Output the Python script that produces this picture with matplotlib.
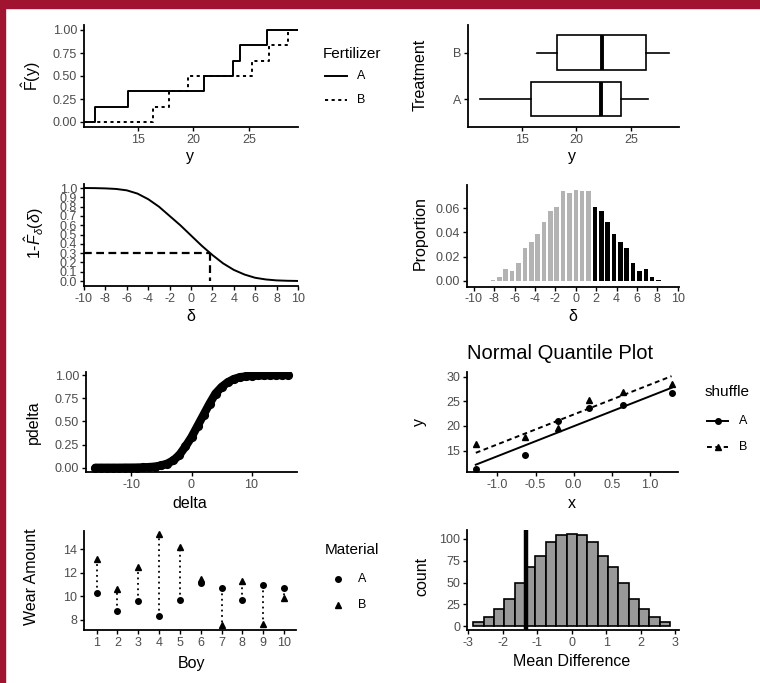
import numpy as np
import matplotlib.pyplot as plt
from matplotlib.lines import Line2D
from matplotlib.patches import Rectangle

plt.rcParams['font.family'] = ['Liberation Sans', 'DejaVu Sans']
plt.rcParams['mathtext.fontset'] = 'custom'
plt.rcParams['mathtext.rm'] = 'Liberation Sans'
plt.rcParams['mathtext.it'] = 'Liberation Sans:italic'
plt.rcParams['mathtext.bf'] = 'Liberation Sans:bold'
plt.rcParams['axes.unicode_minus'] = False

# ---- data ----
# fertilizer yields (ecdf, boxplot and normal quantile plot)
yield_A = [11.2, 14.1, 21.0, 23.6, 24.2, 26.6]
yield_B = [16.4, 17.8, 19.5, 25.3, 26.8, 28.5]
norm_q = [-1.2816, -0.6433, -0.2019, 0.2019, 0.6433, 1.2816]

# 1 - F(delta) curve
surv_delta = [-10, -9, -8, -7, -6, -5, -4, -3, -2, -1, 0, 1, 2, 3, 4, 5, 6, 7, 8, 9, 10]
surv_prob = [1.000, 0.999, 0.996, 0.990, 0.975, 0.94, 0.88, 0.80, 0.70, 0.60, 0.49,
             0.38, 0.28, 0.19, 0.12, 0.07, 0.035, 0.017, 0.007, 0.003, 0.001]
delta_obs = 1.74

# permutation distribution of delta
perm_delta = [-8.125, -7.5, -6.875, -6.25, -5.625, -5.0, -4.375, -3.75, -3.125, -2.5,
              -1.875, -1.25, -0.625, 0.0, 0.625, 1.25, 1.875, 2.5, 3.125, 3.75,
              4.375, 5.0, 5.625, 6.25, 6.875, 7.5, 8.125]
perm_prop = [0.001, 0.003, 0.010, 0.008, 0.015, 0.027, 0.032, 0.039, 0.049, 0.058,
             0.061, 0.074, 0.073, 0.075, 0.074, 0.074, 0.061, 0.058, 0.049, 0.039,
             0.032, 0.027, 0.015, 0.008, 0.010, 0.003, 0.001]

# pdelta vs delta
pdelta_x = list(range(-16, 17))
pdelta_y = [0.0, 0.0, 0.0, 0.0, 0.0, 0.001, 0.001, 0.002, 0.004, 0.007, 0.013, 0.025,
            0.045, 0.08, 0.14, 0.23, 0.33, 0.45, 0.57, 0.69, 0.80, 0.87, 0.92, 0.955,
            0.975, 0.985, 0.992, 0.995, 0.997, 0.998, 0.999, 1.0, 1.0]

# boys shoes
boys = [1, 2, 3, 4, 5, 6, 7, 8, 9, 10]
wear_A = [10.3, 8.8, 9.6, 8.3, 9.7, 11.1, 10.7, 9.7, 11.0, 10.7]
wear_B = [13.2, 10.6, 12.5, 15.3, 14.2, 11.5, 7.6, 11.3, 7.7, 9.9]

# mean difference histogram
md_centers = [-2.7, -2.4, -2.1, -1.8, -1.5, -1.2, -0.9, -0.6, -0.3, 0.0,
              0.3, 0.6, 0.9, 1.2, 1.5, 1.8, 2.1, 2.4, 2.7]
md_counts = [5, 10, 20, 31, 50, 68, 80, 96, 104, 106, 105, 96, 80, 68, 50, 31, 20, 10, 5]
md_obs = -1.33

W, H = 760, 683
TICK_C = '#4d4d4d'


def rect(l, t, r, b):
    return [l / W, 1 - b / H, (r - l) / W, (b - t) / H]


def style(ax):
    for s in ['top', 'right']:
        ax.spines[s].set_visible(False)
    for s in ['left', 'bottom']:
        ax.spines[s].set_linewidth(1.3)
        ax.spines[s].set_color('black')
    ax.tick_params(length=3, width=1.0, labelsize=9, labelcolor=TICK_C, pad=2)


def ftext(x, y, s, **kw):
    fig.text(x / W, 1 - y / H, s, **kw)


def fline(x0, x1, y, **kw):
    fig.add_artist(Line2D([x0 / W, x1 / W], [1 - y / H, 1 - y / H],
                          transform=fig.transFigure, **kw))


fig = plt.figure(figsize=(7.6, 6.83), dpi=100)

# red page border
fig.patches.append(Rectangle((0, 1 - 7.5 / H), 1, 7.5 / H, transform=fig.transFigure,
                             color='#a01432', zorder=-1))
fig.patches.append(Rectangle((0, 0), 5 / W, 1, transform=fig.transFigure,
                             color='#a01432', zorder=-1))

LAB = 11.5

# ---- panel 1: ecdf ----
ax1 = fig.add_axes(rect(84, 25.4, 297.6, 126.6))
style(ax1)
lo, hi = 10.2, 29.35
n = len(yield_A)
steps = list(np.arange(0, n + 1) / n) + [1.0]
ax1.step([lo] + sorted(yield_A) + [hi], steps, where='post', color='black', lw=1.4)
ax1.step([lo] + sorted(yield_B) + [hi], steps, where='post', color='black', lw=1.4,
         linestyle=(0, (1.6, 1.8)))
ax1.set_xlim(lo, hi)
ax1.set_ylim(-0.05, 1.05)
ax1.set_xticks([15, 20, 25])
ax1.set_yticks([0, 0.25, 0.5, 0.75, 1.0])
ax1.set_yticklabels(['0.00', '0.25', '0.50', '0.75', '1.00'])
ftext(190, 157, 'y', fontsize=LAB, ha='center', va='center')
ftext(31, 76, r'$\hat{\mathrm{F}}\mathrm{(y)}$', fontsize=LAB, ha='center', va='center',
      rotation=90)
ftext(323, 54, 'Fertilizer', fontsize=11, ha='left', va='center')
fline(325, 347, 76, color='black', lw=1.4)
fline(325, 347, 100, color='black', lw=1.4, linestyle=(0, (1.6, 1.8)))
ftext(357, 76, 'A', fontsize=9, ha='left', va='center')
ftext(357, 100, 'B', fontsize=9, ha='left', va='center')

# ---- panel 2: boxplot ----
ax2 = fig.add_axes(rect(468, 24.6, 679, 126.9))
style(ax2)
ax2.boxplot([yield_A, yield_B], positions=[1, 2], orientation='horizontal', widths=0.75,
            showfliers=False, showcaps=False, patch_artist=True,
            boxprops=dict(facecolor='white', edgecolor='black', linewidth=1.2),
            whiskerprops=dict(color='black', linewidth=1.2),
            medianprops=dict(color='black', linewidth=2.8))
ax2.set_xlim(10.1, 29.4)
ax2.set_ylim(0.4, 2.6)
ax2.set_xticks([15, 20, 25])
ax2.set_xticklabels(['15', '20', '25'])
ax2.set_yticks([1, 2])
ax2.set_yticklabels(['A', 'B'])
ftext(571.7, 157, 'y', fontsize=LAB, ha='center', va='center')
ftext(420, 75, 'Treatment', fontsize=LAB, ha='center', va='center', rotation=90)

# ---- panel 3: 1 - F(delta) ----
ax3 = fig.add_axes(rect(84, 184.3, 298, 285.7))
style(ax3)
ax3.plot(surv_delta, surv_prob, color='black', lw=1.4)
ax3.plot([-10, delta_obs], [0.3, 0.3], color='black', lw=1.6, linestyle=(0, (3.5, 2)))
ax3.plot([delta_obs, delta_obs], [0.3, 0.0], color='black', lw=1.6, linestyle=(0, (3.5, 2)))
ax3.set_xlim(-10, 10)
ax3.set_ylim(-0.05, 1.04)
ax3.set_xticks(range(-10, 11, 2))
ax3.set_yticks([i / 10 for i in range(11)])
ax3.set_yticklabels(['%.1f' % (i / 10) for i in range(11)])
ftext(190.7, 316.7, 'δ', fontsize=LAB, ha='center', va='center')
ftext(34, 233, r'1-$\hat{F}_{\delta}(\delta)$', fontsize=LAB, ha='center', va='center',
      rotation=90)

# ---- panel 4: permutation proportions ----
ax4 = fig.add_axes(rect(467, 185, 679, 286.5))
style(ax4)
cols = ['black' if d >= delta_obs else '#b3b3b3' for d in perm_delta]
ax4.bar(perm_delta, perm_prop, width=0.45, color=cols)
ax4.set_xlim(-10.68, 10.13)
ax4.set_ylim(-0.0047, 0.0793)
ax4.set_xticks(range(-10, 11, 2))
ax4.set_yticks([0, 0.02, 0.04, 0.06])
ax4.set_yticklabels(['0.00', '0.02', '0.04', '0.06'])
ftext(572.7, 316.7, 'δ', fontsize=LAB, ha='center', va='center')
ftext(420, 233, 'Proportion', fontsize=LAB, ha='center', va='center', rotation=90)

# ---- panel 5: pdelta ----
ax5 = fig.add_axes(rect(86, 371.5, 297, 472))
style(ax5)
ax5.plot(pdelta_x, pdelta_y, color='black', lw=6.0, solid_capstyle='round',
         solid_joinstyle='round', marker='o', ms=5.6)
ax5.set_xlim(-17.58, 17.58)
ax5.set_ylim(-0.046, 1.038)
ax5.set_xticks([-10, 0, 10])
ax5.set_yticks([0, 0.25, 0.5, 0.75, 1.0])
ax5.set_yticklabels(['0.00', '0.25', '0.50', '0.75', '1.00'])
ftext(190, 503.3, 'delta', fontsize=LAB, ha='center', va='center')
ftext(33, 421.7, 'pdelta', fontsize=LAB, ha='center', va='center', rotation=90)

# ---- panel 6: normal quantile plot ----
ax6 = fig.add_axes(rect(467, 371.7, 678, 471.7))
style(ax6)
zq = 0.6745
for vals, mk, ls, ms in [(yield_A, 'o', '-', 4.0), (yield_B, '^', (0, (2.5, 1.8)), 4.6)]:
    q1, q3 = np.percentile(vals, [25, 75])
    slope = (q3 - q1) / (2 * zq)
    inter = q1 + zq * slope
    xq = np.array([norm_q[0], norm_q[-1]])
    ax6.plot(xq, inter + slope * xq, color='black', lw=1.4, linestyle=ls)
    ax6.plot(norm_q, sorted(vals), linestyle='none', marker=mk, ms=ms, color='black')
ax6.set_xlim(-1.397, 1.366)
ax6.set_ylim(10.7, 31.02)
ax6.set_xticks([-1.0, -0.5, 0.0, 0.5, 1.0])
ax6.set_xticklabels(['-1.0', '-0.5', '0.0', '0.5', '1.0'])
ax6.set_yticks([15, 20, 25, 30])
ax6.set_title('Normal Quantile Plot', loc='left', fontsize=14.5, pad=9)
ftext(571.7, 503.3, 'x', fontsize=LAB, ha='center', va='center')
ftext(419.3, 421.7, 'y', fontsize=LAB, ha='center', va='center', rotation=90)
ftext(705, 391.7, 'shuffle', fontsize=11, ha='left', va='center')
fline(706.7, 728.3, 421, color='black', lw=1.4)
fline(706.7, 728.3, 446.7, color='black', lw=1.4, linestyle=(0, (2.5, 1.8)))
fig.add_artist(Line2D([717.5 / W], [1 - 421 / H], transform=fig.transFigure,
                      marker='o', ms=4.0, color='black'))
fig.add_artist(Line2D([717.5 / W], [1 - 446.7 / H], transform=fig.transFigure,
                      marker='^', ms=4.6, color='black'))
ftext(739.3, 421, 'A', fontsize=9, ha='left', va='center')
ftext(739.3, 446.7, 'B', fontsize=9, ha='left', va='center')

# ---- panel 7: wear amount ----
ax7 = fig.add_axes(rect(84.2, 530.7, 296.4, 630))
style(ax7)
for b, a, c in zip(boys, wear_A, wear_B):
    ax7.plot([b, b], [a, c], color='black', lw=1.3, linestyle=(0, (1, 2)))
ax7.plot(boys, wear_A, linestyle='none', marker='o', ms=4.0, color='black')
ax7.plot(boys, wear_B, linestyle='none', marker='^', ms=4.6, color='black')
ax7.set_xlim(0.4, 10.6)
ax7.set_ylim(7.15, 15.58)
ax7.set_xticks(boys)
ax7.set_yticks([8, 10, 12, 14])
ftext(191.7, 663.3, 'Boy', fontsize=LAB, ha='center', va='center')
ftext(32, 576.7, 'Wear Amount', fontsize=LAB, ha='center', va='center', rotation=90)
ftext(325, 550, 'Material', fontsize=11, ha='left', va='center')
fig.add_artist(Line2D([338.3 / W], [1 - 579.3 / H], transform=fig.transFigure,
                      marker='o', ms=4.0, color='black'))
fig.add_artist(Line2D([338.3 / W], [1 - 605 / H], transform=fig.transFigure,
                      marker='^', ms=4.6, color='black'))
ftext(358.3, 579.3, 'A', fontsize=9, ha='left', va='center')
ftext(358.3, 605, 'B', fontsize=9, ha='left', va='center')

# ---- panel 8: mean difference histogram ----
ax8 = fig.add_axes(rect(467, 530, 679, 630.3))
style(ax8)
ax8.bar(md_centers, md_counts, width=0.3, color='#999999', edgecolor='black', linewidth=1.2)
ax8.axvline(md_obs, color='black', lw=3.2)
ax8.set_xlim(-3.035, 3.11)
ax8.set_ylim(-4.9, 110.3)
ax8.set_xticks([-3, -2, -1, 0, 1, 2, 3])
ax8.set_yticks([0, 25, 50, 75, 100])
ftext(571.7, 661.7, 'Mean Difference', fontsize=LAB, ha='center', va='center')
ftext(421.7, 576.7, 'count', fontsize=LAB, ha='center', va='center', rotation=90)

fig.savefig('out.png', dpi=100)
